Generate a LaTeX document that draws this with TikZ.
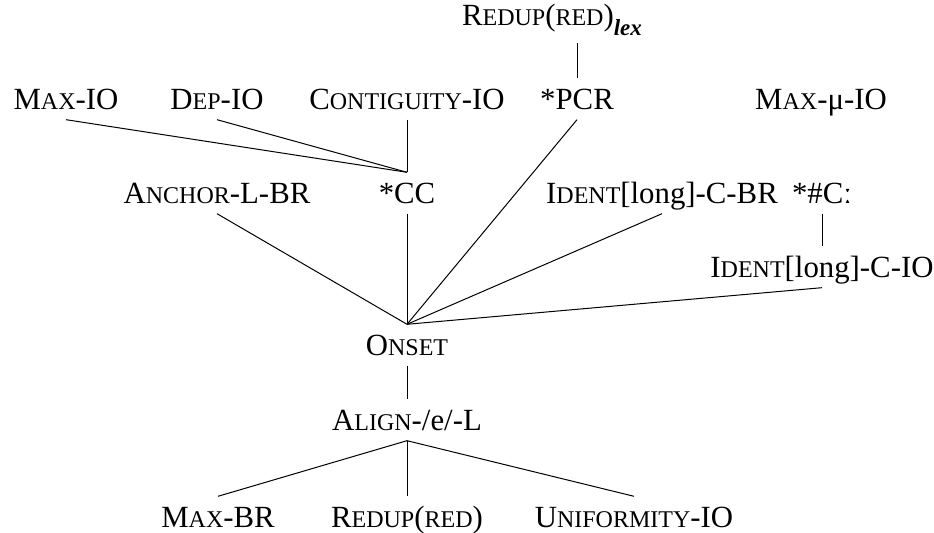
\documentclass[tikz,border=0pt]{standalone}
\usepackage{fontspec}
\setmainfont{Liberation Serif}
\usetikzlibrary{positioning}

\newcommand{\smc}[1]{{\fontsize{12}{13}\selectfont #1}}

\tikzset{
  con/.style={inner xsep=2pt, inner ysep=5pt, text height=10.3pt, text depth=0pt},
  rank/.style={line width=0.5pt},
}

\begin{document}
\begin{tikzpicture}[x=0.5pt, y=-0.5pt, font=\fontsize{15.4}{18}\selectfont]

\useasboundingbox (0,0) rectangle (934,533);

\node[con, text depth=3.5pt] (lex) at (552,19) {R\smc{EDUP}(\smc{RED})\raisebox{-0.3em}{\fontsize{11.5}{12}\selectfont\bfseries\itshape lex}};

\node[con] (maxio) at (66,99) {M\smc{AX}-IO};
\node[con] (depio) at (217,99) {D\smc{EP}-IO};
\node[con] (contig) at (407,99) {C\smc{ONTIGUITY}-IO};
\node[con] (pcr) at (577,99) {*PCR};
\node[con] (maxmu) at (821,99) {M\smc{AX}-μ-IO};

\node[con] (anchor) at (217,193) {A\smc{NCHOR}-L-BR};
\node[con] (cc) at (407,193) {*CC};
\node[con] (identbr) at (662,193) {I\smc{DENT}[long]-C-BR};
\node[con] (hashc) at (822,193) {*\#Cː};

\node[con] (identio) at (822,267) {I\smc{DENT}[long]-C-IO};

\node[con] (onset) at (407,345) {O\smc{NSET}};
\node[con] (align) at (407,420) {A\smc{LIGN}-/e/-L};

\node[con] (maxbr) at (218,517) {M\smc{AX}-BR};
\node[con] (redup) at (407,517) {R\smc{EDUP}(\smc{RED})};
\node[con] (unif) at (634,517) {U\smc{NIFORMITY}-IO};

\draw[rank] (pcr.north) -- (pcr.north |- lex.south);

\draw[rank] (maxio.south) -- (cc.north);
\draw[rank] (depio.south) -- (cc.north);
\draw[rank] (contig.south) -- (cc.north);

\draw[rank] (anchor.south) -- (onset.north);
\draw[rank] (cc.south) -- (onset.north);
\draw[rank] (pcr.south) -- (onset.north);
\draw[rank] (identbr.south) -- (onset.north);
\draw[rank] (hashc.south) -- (identio.north);
\draw[rank] (identio.south) -- (onset.north);

\draw[rank] (onset.south) -- (align.north);
\draw[rank] (align.south) -- (maxbr.north);
\draw[rank] (align.south) -- (redup.north);
\draw[rank] (align.south) -- (unif.north);

\end{tikzpicture}
\end{document}
